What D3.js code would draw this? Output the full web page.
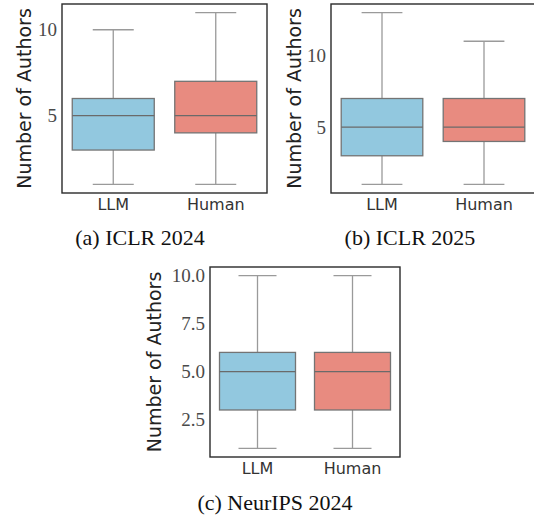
<!DOCTYPE html>
<html>
<head>
<meta charset="utf-8">
<script src="https://cdn.jsdelivr.net/npm/d3@7"></script>
<style>
  body { margin: 0; background: #fff; }
  svg { display: block; }
</style>
</head>
<body>
<div id="chart"></div>
<script>
// categories shared by every panel
var categories = ["LLM", "Human"];
var boxColors = ["#92c8df", "#e88b80"];

// box stats per panel: [whiskerLow, q1, median, q3, whiskerHigh]
var iclr2024 = [[1, 3, 5, 6, 10], [1, 4, 5, 7, 11]];
var iclr2025 = [[1, 3, 5, 7, 13], [1, 4, 5, 7, 11]];
var neurips2024 = [[1, 3, 5, 6, 10], [1, 3, 5, 6, 10]];

var ticks2024 = [5, 10];
var ticks2025 = [5, 10];
var ticksNeurips = [2.5, 5, 7.5, 10];

var captions = ["(a) ICLR 2024", "(b) ICLR 2025", "(c) NeurIPS 2024"];

var svg = d3.select("#chart")
  .append("svg")
  .attr("width", 534)
  .attr("height", 522);

var panels = [
  { stats: iclr2024, ticks: ticks2024, fmt: d3.format("d"), caption: captions[0],
    box: { left: 62, right: 267, top: 4, bottom: 193 }, labelX: 25, captionX: 140, captionY: 240 },
  { stats: iclr2025, ticks: ticks2025, fmt: d3.format("d"), caption: captions[1],
    box: { left: 331, right: 535, top: 4, bottom: 193 }, labelX: 295, captionX: 410, captionY: 240 },
  { stats: neurips2024, ticks: ticksNeurips, fmt: d3.format(".1f"), caption: captions[2],
    box: { left: 210, right: 400, top: 267, bottom: 457 }, labelX: 155, captionX: 275, captionY: 505 }
];

panels.forEach(function(p) {
  var b = p.box;
  var lo = d3.min(p.stats, d => d[0]);
  var hi = d3.max(p.stats, d => d[4]);
  var pad = (hi - lo) * 0.05;

  var x = d3.scaleBand()
    .domain(categories)
    .range([b.left, b.right])
    .padding(0);

  var y = d3.scaleLinear()
    .domain([lo - pad, hi + pad])
    .range([b.bottom, b.top]);

  var g = svg.append("g");

  var boxW = x.bandwidth() * 0.8;
  var capW = boxW * 0.5;

  p.stats.forEach(function(s, i) {
    var cx = x(categories[i]) + x.bandwidth() / 2;
    // whiskers
    g.append("line")
      .attr("x1", cx).attr("x2", cx)
      .attr("y1", y(s[0])).attr("y2", y(s[1]))
      .attr("stroke", "#9a9a9a").attr("stroke-width", 1.3);
    g.append("line")
      .attr("x1", cx).attr("x2", cx)
      .attr("y1", y(s[3])).attr("y2", y(s[4]))
      .attr("stroke", "#9a9a9a").attr("stroke-width", 1.3);
    // caps
    [s[0], s[4]].forEach(function(v) {
      g.append("line")
        .attr("x1", cx - capW / 2).attr("x2", cx + capW / 2)
        .attr("y1", y(v)).attr("y2", y(v))
        .attr("stroke", "#9a9a9a").attr("stroke-width", 1.3);
    });
    // box
    g.append("rect")
      .attr("x", cx - boxW / 2)
      .attr("y", y(s[3]))
      .attr("width", boxW)
      .attr("height", y(s[1]) - y(s[3]))
      .attr("fill", boxColors[i])
      .attr("stroke", "#747474")
      .attr("stroke-width", 1.3);
    // median
    g.append("line")
      .attr("x1", cx - boxW / 2).attr("x2", cx + boxW / 2)
      .attr("y1", y(s[2])).attr("y2", y(s[2]))
      .attr("stroke", "#6a6a6a").attr("stroke-width", 1.3);
  });

  // frame
  g.append("rect")
    .attr("x", b.left).attr("y", b.top)
    .attr("width", b.right - b.left)
    .attr("height", b.bottom - b.top)
    .attr("fill", "none")
    .attr("stroke", "#2a2a2a")
    .attr("stroke-width", 1.4);

  // y axis, labels only
  var yAxis = d3.axisLeft(y).tickValues(p.ticks).tickFormat(p.fmt).tickSize(0).tickPadding(5);
  var ya = svg.append("g")
    .attr("transform", `translate(${b.left},0)`)
    .call(yAxis);
  ya.select(".domain").remove();
  ya.selectAll("text")
    .attr("font-family", "'Liberation Serif', serif")
    .attr("font-size", 19)
    .attr("fill", "#4a4a4a");

  // x axis, labels only
  var xAxis = d3.axisBottom(x).tickSize(0).tickPadding(6);
  var xa = svg.append("g")
    .attr("transform", `translate(0,${b.bottom})`)
    .call(xAxis);
  xa.select(".domain").remove();
  xa.selectAll("text")
    .attr("font-family", "'DejaVu Sans', sans-serif")
    .attr("font-size", 16)
    .attr("fill", "#333");

  // y label
  svg.append("text")
    .attr("transform", `translate(${p.labelX},${(b.top + b.bottom) / 2}) rotate(-90)`)
    .attr("text-anchor", "middle")
    .attr("dominant-baseline", "middle")
    .attr("font-family", "'DejaVu Sans', sans-serif")
    .attr("font-size", 19)
    .attr("fill", "#222")
    .text("Number of Authors");

  // caption
  svg.append("text")
    .attr("x", p.captionX)
    .attr("y", p.captionY)
    .attr("text-anchor", "middle")
    .attr("dominant-baseline", "middle")
    .attr("font-family", "'Liberation Serif', serif")
    .attr("font-size", 22)
    .attr("fill", "#111")
    .text(p.caption);
});
</script>
</body>
</html>
